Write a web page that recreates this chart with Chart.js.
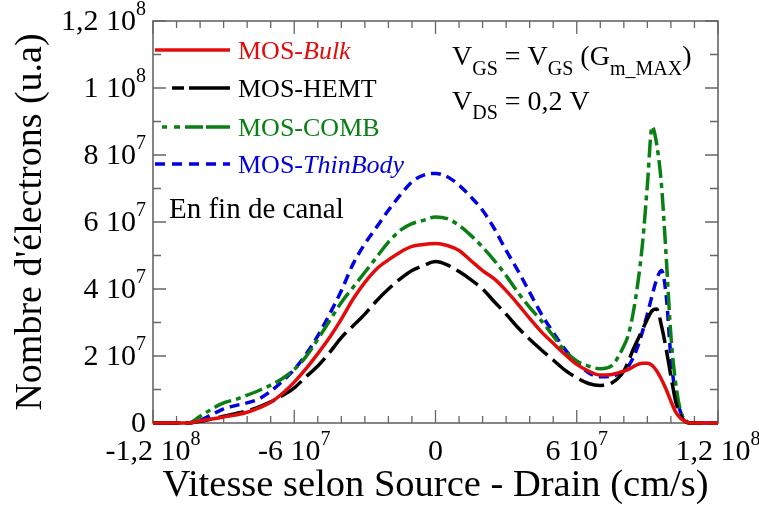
<!DOCTYPE html>
<html>
<head>
<meta charset="utf-8">
<title>Nombre d'électrons - vitesse</title>
<script src="https://cdn.jsdelivr.net/npm/chart.js@4.4.0/dist/chart.umd.min.js"></script>
<style>
  html, body { margin: 0; padding: 0; background: #ffffff; }
</style>
</head>
<body>
<canvas id="velocityChart" width="759" height="506"></canvas>
<script>
"use strict";

// velocity along source-drain, in 1e6 cm/s
var velocity = [-120, -110, -105,
    -100, -95, -90, -85, -80, -75, -70, -65, -60, -55, -50, -45, -40, -35, -30, -25, -20, -15, -10, -5,
    0, 5, 10, 15, 20, 25, 30, 35, 40, 45, 50, 55, 60, 65, 70, 75, 80,
    82, 84, 86, 88, 90, 92, 94, 96, 98, 100, 102, 104, 106, 108, 110,
    115, 120];

// number of electrons, in 1e7 (u.a)
var mosBulk = [0, 0, 0,
    0.07, 0.12, 0.18, 0.24, 0.32, 0.45, 0.62, 0.88, 1.22, 1.62, 2.07, 2.55, 3.1, 3.7, 4.2, 4.6, 4.87, 5.1, 5.27, 5.33,
    5.36, 5.3, 5.15, 4.85, 4.55, 4.3, 3.95, 3.55, 3.12, 2.72, 2.38, 2.05, 1.75, 1.55, 1.43, 1.45, 1.55,
    1.6, 1.68, 1.75, 1.78, 1.78, 1.72, 1.55, 1.3, 1.0, 0.65, 0.33, 0.15, 0.05, 0, 0,
    0, 0];

var mosHemt = [0, 0, 0,
    0.05, 0.12, 0.2, 0.28, 0.36, 0.48, 0.63, 0.82, 1.05, 1.38, 1.7, 2.1, 2.55, 2.9, 3.25, 3.65, 4.0, 4.3, 4.55, 4.7,
    4.82, 4.72, 4.52, 4.28, 4.0, 3.62, 3.25, 2.85, 2.5, 2.18, 1.88, 1.58, 1.35, 1.18, 1.12, 1.2, 1.55,
    1.85, 2.2, 2.5, 2.8, 3.1, 3.35, 3.4, 2.9, 2.2, 1.4, 0.65, 0.25, 0.05, 0, 0,
    0, 0];

var mosComb = [0, 0, 0,
    0.2, 0.42, 0.6, 0.7, 0.83, 0.97, 1.13, 1.33, 1.6, 1.98, 2.5, 3.05, 3.6, 4.05, 4.5, 4.95, 5.4, 5.75, 5.95, 6.05,
    6.15, 6.1, 5.9, 5.6, 5.25, 4.85, 4.4, 3.9, 3.45, 3.05, 2.6, 2.15, 1.85, 1.7, 1.62, 1.72, 2.3,
    2.65, 3.3, 4.2, 5.4, 7.1, 8.85, 8.3, 7.1, 4.95, 2.6, 1.2, 0.38, 0.08, 0, 0,
    0, 0];

var mosThinBody = [0, 0, 0,
    0.08, 0.25, 0.42, 0.52, 0.6, 0.72, 0.95, 1.25, 1.6, 2.05, 2.6, 3.25, 3.95, 4.75, 5.35, 5.85, 6.35, 6.8, 7.2, 7.4,
    7.45, 7.35, 7.1, 6.75, 6.35, 5.8, 5.15, 4.55, 3.9, 3.25, 2.7, 2.2, 1.8, 1.5, 1.38, 1.4, 1.55,
    1.7, 1.95, 2.3, 2.75, 3.25, 3.8, 4.3, 4.55, 3.8, 1.95, 0.85, 0.35, 0.1, 0, 0,
    0, 0];

var xTickValues = [-120, -60, 0, 60, 120];
var xTickLabels = ['-1,2 10\u2078', '-6 10\u2077', '0', '6 10\u2077', '1,2 10\u2078'];
var yTickValues = [0, 2, 4, 6, 8, 10, 12];
var yTickLabels = ['0', '2 10\u2077', '4 10\u2077', '6 10\u2077', '8 10\u2077', '1 10\u2078', '1,2 10\u2078'];

var SERIF = "'Liberation Serif', 'Times New Roman', serif";
var AXIS_COLOR = '#666666';
var C_RED = 'rgb(226, 12, 12)';
var C_BLACK = '#000000';
var C_GREEN = 'rgb(10, 128, 20)';
var C_BLUE = 'rgb(0, 0, 225)';

var series = [
    {name: [['MOS-', false], ['Bulk', true]], data: mosBulk, color: C_RED, dash: [],
        legendDash: [], legendY: 50, legendX: 155},
    {name: [['MOS-HEMT', false]], data: mosHemt, color: C_BLACK, dash: [26, 7],
        legendDash: [12, 5, 60], legendY: 88, legendX: 172},
    {name: [['MOS-COMB', false]], data: mosComb, color: C_GREEN, dash: [18, 5, 5, 5],
        legendDash: [5, 7, 6, 5, 18, 3, 30], legendY: 127, legendX: 162},
    {name: [['MOS-', false], ['ThinBody', true]], data: mosThinBody, color: C_BLUE, dash: [10, 6],
        legendDash: [10, 7], legendY: 164, legendX: 155}
];

var supDigits = {'\u2077': '7', '\u2078': '8'};

function drawTickLabel(ctx, text, x, baseline, align) {
    var last = text.charAt(text.length - 1);
    var base = text, sup = '';
    if (supDigits[last]) {
        base = text.slice(0, -1);
        sup = supDigits[last];
    }
    ctx.font = '30px ' + SERIF;
    var wb = ctx.measureText(base).width;
    ctx.font = '20px ' + SERIF;
    var ws = sup ? ctx.measureText(sup).width : 0;
    var total = wb + ws;
    var start = align === 'right' ? x - total : x - total / 2;
    ctx.textAlign = 'left';
    ctx.textBaseline = 'alphabetic';
    ctx.font = '30px ' + SERIF;
    ctx.fillText(base, start, baseline);
    if (sup) {
        ctx.font = '20px ' + SERIF;
        ctx.fillText(sup, start + wb, baseline - 15);
    }
}

// draws a run of text pieces: [text, size, dy, italic]
function drawRun(ctx, pieces, x, baseline) {
    var i, cx = x;
    ctx.textAlign = 'left';
    ctx.textBaseline = 'alphabetic';
    for (i = 0; i < pieces.length; i++) {
        var p = pieces[i];
        ctx.font = (p[3] ? 'italic ' : '') + p[1] + 'px ' + SERIF;
        ctx.fillText(p[0], cx, baseline + p[2]);
        cx += ctx.measureText(p[0]).width;
    }
}

var framePlugin = {
    id: 'frame',
    beforeDatasetsDraw: function (chart) {
        var ctx = chart.ctx;
        var a = chart.chartArea;
        var xs = chart.scales.x;
        var ys = chart.scales.y;
        var v, px, py, len, i;

        ctx.save();
        ctx.strokeStyle = AXIS_COLOR;
        ctx.lineWidth = 1.6;
        ctx.strokeRect(a.left, a.top, a.right - a.left, a.bottom - a.top);

        ctx.lineWidth = 1.3;
        ctx.beginPath();
        for (v = xs.min; v <= xs.max; v += 10) {
            px = xs.getPixelForValue(v);
            len = xTickValues.indexOf(v) >= 0 ? 13 : 7;
            ctx.moveTo(px, a.bottom);
            ctx.lineTo(px, a.bottom - len);
            ctx.moveTo(px, a.top);
            ctx.lineTo(px, a.top + len);
        }
        for (v = ys.min; v <= ys.max; v += 1) {
            py = ys.getPixelForValue(v);
            len = yTickValues.indexOf(v) >= 0 ? 13 : 8;
            ctx.moveTo(a.left, py);
            ctx.lineTo(a.left + len, py);
            ctx.moveTo(a.right, py);
            ctx.lineTo(a.right - len, py);
        }
        ctx.stroke();

        ctx.fillStyle = '#000000';
        for (i = 0; i < xTickValues.length; i++) {
            drawTickLabel(ctx, xTickLabels[i], xs.getPixelForValue(xTickValues[i]), 460, 'center');
        }
        for (i = 0; i < yTickValues.length; i++) {
            drawTickLabel(ctx, yTickLabels[i], a.left - 7, ys.getPixelForValue(yTickValues[i]) + 9, 'right');
        }
        ctx.restore();
    },
    afterDatasetsDraw: function (chart) {
        var ctx = chart.ctx;
        var i, j;
        ctx.save();

        // legend
        for (i = 0; i < series.length; i++) {
            var s = series[i];
            ctx.strokeStyle = s.color;
            ctx.lineWidth = 3.5;
            ctx.setLineDash(s.legendDash);
            ctx.beginPath();
            ctx.moveTo(s.legendX, s.legendY);
            ctx.lineTo(230, s.legendY);
            ctx.stroke();
            ctx.setLineDash([]);
            ctx.fillStyle = s.color;
            var pieces = [];
            for (j = 0; j < s.name.length; j++) {
                pieces.push([s.name[j][0], 26, 0, s.name[j][1]]);
            }
            drawRun(ctx, pieces, 238, s.legendY + 9);
        }

        ctx.fillStyle = '#000000';
        drawRun(ctx, [['En fin de canal', 29, 0, false]], 169, 218);

        drawRun(ctx, [
            ['V', 28, 0, false], ['GS', 20, 10, false], [' = V', 28, 0, false], ['GS', 20, 10, false],
            [' (G', 28, 0, false], ['m_MAX', 20, 10, false], [')', 28, 0, false]
        ], 452, 65);
        drawRun(ctx, [
            ['V', 28, 0, false], ['DS', 20, 9, false], [' = 0,2 V', 28, 0, false]
        ], 452, 110);

        ctx.restore();
    }
};

function buildPoints(values) {
    var pts = [];
    for (var i = 0; i < velocity.length; i++) {
        pts.push({x: velocity[i], y: values[i]});
    }
    return pts;
}

var datasets = series.map(function (s) {
    return {
        label: s.name.map(function (p) { return p[0]; }).join(''),
        data: buildPoints(s.data),
        borderColor: s.color,
        backgroundColor: s.color,
        borderWidth: 3.5,
        borderDash: s.dash,
        pointRadius: 0,
        fill: false,
        tension: 0.3,
        cubicInterpolationMode: 'monotone',
        clip: 6
    };
});

var chart = new Chart(document.getElementById('velocityChart'), {
    type: 'line',
    data: {datasets: datasets},
    options: {
        responsive: false,
        animation: false,
        layout: {padding: {top: 21, right: 41, left: 0, bottom: 0}},
        plugins: {
            legend: {display: false},
            tooltip: {enabled: false}
        },
        scales: {
            x: {
                type: 'linear',
                min: -120,
                max: 120,
                grid: {display: false, drawTicks: false},
                border: {display: false},
                ticks: {display: false, stepSize: 60},
                title: {
                    display: true,
                    text: 'Vitesse selon Source - Drain (cm/s)',
                    color: '#000000',
                    font: {family: SERIF, size: 38.5, lineHeight: 1},
                    padding: {top: 0, bottom: 1}
                },
                afterFit: function (scale) { scale.height = 83; }
            },
            y: {
                type: 'linear',
                min: 0,
                max: 12,
                grid: {display: false, drawTicks: false},
                border: {display: false},
                ticks: {display: false, stepSize: 2},
                title: {
                    display: true,
                    text: "Nombre d'électrons (u.a)",
                    color: '#000000',
                    font: {family: SERIF, size: 38, lineHeight: 1},
                    padding: {top: 12, bottom: 0}
                },
                afterFit: function (scale) { scale.width = 153; }
            }
        }
    },
    plugins: [framePlugin]
});
</script>
</body>
</html>
